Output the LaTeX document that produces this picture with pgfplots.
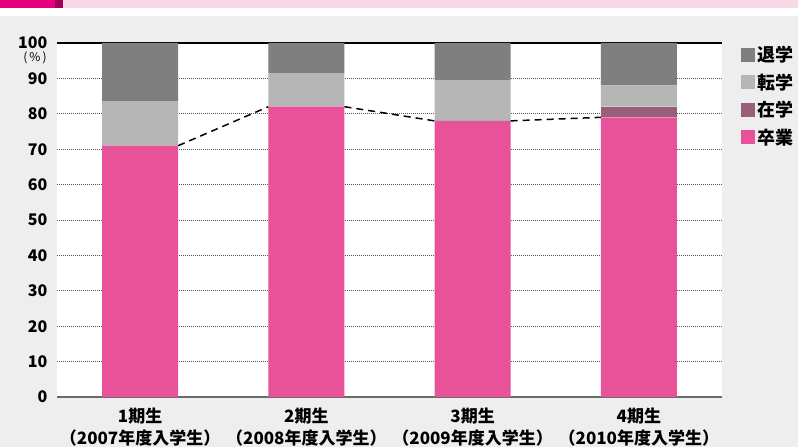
\documentclass[border=0pt]{standalone}
\usepackage{fontspec}
\setmainfont{Noto Sans CJK JP}
\usepackage{pgfplots}
\pgfplotsset{compat=1.18}
\definecolor{cpink}{HTML}{E85298}
\definecolor{czai}{HTML}{9A5F78}
\definecolor{cten}{HTML}{B5B6B5}
\definecolor{ctai}{HTML}{7F7F7F}
\definecolor{cbg}{HTML}{EEEEEE}
\definecolor{hmag}{HTML}{E4007F}
\definecolor{hdark}{HTML}{9E0058}
\definecolor{hlight}{HTML}{F9D9E8}
\definecolor{cgrid}{HTML}{555555}
\definecolor{cbase}{HTML}{6B6B6B}
\begin{document}
\begin{tikzpicture}[x=1pt,y=1pt]
\fill[cbg] (0,0) rectangle (798,431);
\fill[white] (0,431) rectangle (798,439);
\fill[hlight] (63,439) rectangle (798,447);
\fill[hmag] (0,439) rectangle (55,447);
\fill[hdark] (55,439) rectangle (63,447);
\useasboundingbox (0,0) rectangle (798,447);
\begin{axis}[
  at={(57pt,50pt)}, anchor=south west, scale only axis,
  width=665pt, height=354pt,
  xmin=-0.5, xmax=3.5, ymin=0, ymax=100,
  ybar stacked, bar width=76pt,
  axis background/.style={fill=white},
  axis line style={draw=none},
  major tick length=0pt,
  xtick={0,1,2,3},
  xticklabels={{1期生\\（2007年度入学生）},{2期生\\（2008年度入学生）},{3期生\\（2009年度入学生）},{4期生\\（2010年度入学生）}},
  xticklabel style={align=center, font=\fontsize{17}{22}\selectfont\bfseries, yshift=-7pt},
  ytick={0,10,...,100},
  yticklabel style={font=\fontsize{16}{16}\selectfont\bfseries, xshift=-6pt},
  /pgf/number format/assume math mode=true,
  ymajorgrids,
  grid style={cgrid, line width=0.8pt, dash pattern=on 1pt off 1pt},
  legend style={draw=none, fill=none, at={(1,1)}, anchor=north west,
    xshift=19pt, yshift=-1pt, inner sep=0pt, row sep=6.5pt,
    font=\fontsize{18}{18}\selectfont\bfseries, cells={anchor=west}},
  legend image code/.code={\fill[#1] (0pt,-7pt) rectangle (14pt,7pt);},
  reverse legend,
  clip=false,
]
\addplot[fill=cpink, draw=none] coordinates {(0,71) (1,82) (2,78) (3,79)};
\addlegendentry{卒業}
\addplot[fill=czai, draw=none] coordinates {(0,0) (1,0) (2,0) (3,3)};
\addlegendentry{在学}
\addplot[fill=cten, draw=none] coordinates {(0,12.6) (1,9.5) (2,11.5) (3,6)};
\addlegendentry{転学}
\addplot[fill=ctai, draw=none] coordinates {(0,16.4) (1,8.5) (2,10.5) (3,12)};
\addlegendentry{退学}
\draw[black, line width=1.2pt] (axis cs:-0.5,100) -- (axis cs:3.5,100);
\draw[cbase, line width=2pt] (axis cs:-0.5,0) -- (axis cs:3.5,0);
\node[anchor=center, font=\fontsize{12}{12}\selectfont] at ([xshift=-22pt,yshift=-15pt]rel axis cs:0,1) {(\,\%\,)};
\end{axis}
\begin{axis}[
  at={(57pt,50pt)}, anchor=south west, scale only axis,
  width=665pt, height=354pt,
  xmin=-0.5, xmax=3.5, ymin=0, ymax=100,
  hide axis, unbounded coords=jump,
]
\addplot[black, line width=1.5pt, dash pattern=on 7pt off 5pt, mark=none]
  coordinates {(0.229,71) (0.771,82) (1,nan) (1.229,82) (1.771,78) (2,nan) (2.229,78) (2.771,79)};
\end{axis}
\end{tikzpicture}
\end{document}
